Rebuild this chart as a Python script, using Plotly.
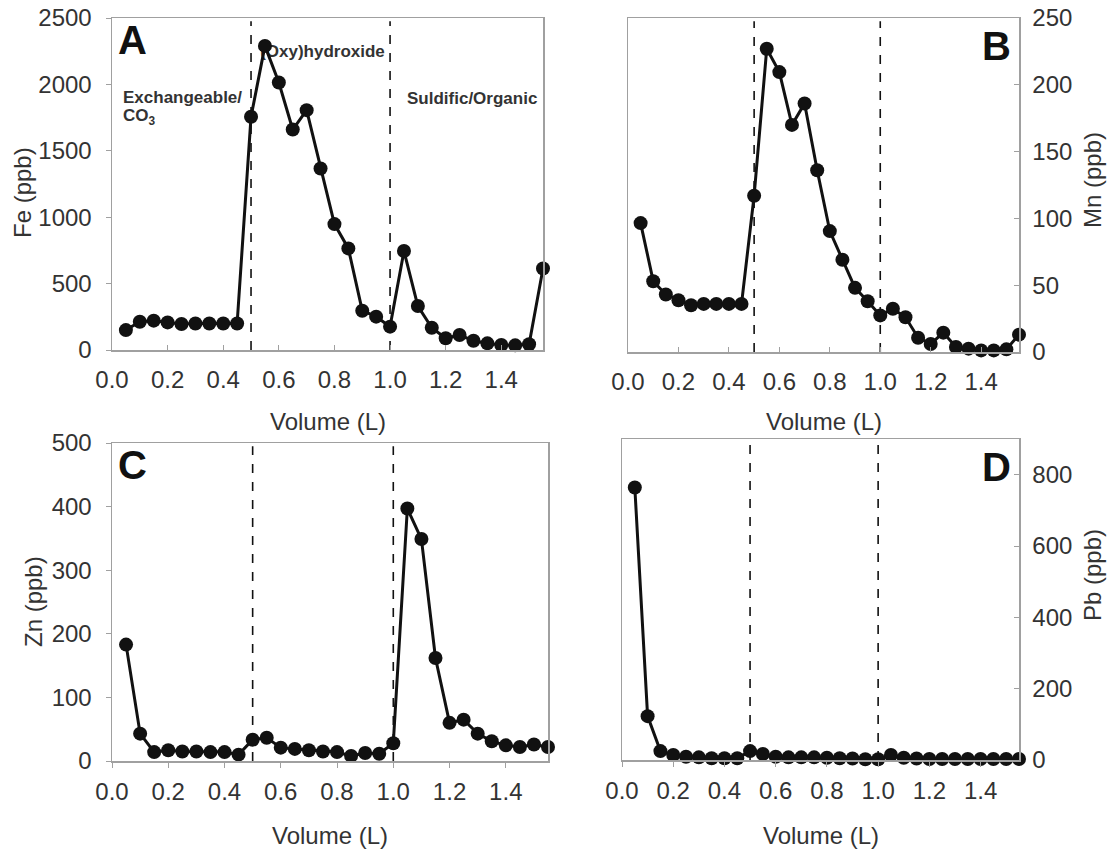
import plotly.graph_objects as go

W, H = 1112, 854
OFF = 0  # body margin removed via post_script

volume = [0.05, 0.10, 0.15, 0.20, 0.25, 0.30, 0.35, 0.40, 0.45, 0.50,
          0.55, 0.60, 0.65, 0.70, 0.75, 0.80, 0.85, 0.90, 0.95, 1.00,
          1.05, 1.10, 1.15, 1.20, 1.25, 1.30, 1.35, 1.40, 1.45, 1.50, 1.55]

fe = [150, 213, 221, 208, 196, 200, 200, 200, 200, 1756,
      2290, 2014, 1660, 1806, 1367, 948, 765, 296, 251, 176,
      745, 331, 168, 88, 113, 70, 50, 38, 35, 43, 614]

mn = [96.5, 53, 43, 38.7, 35, 36, 36, 36, 36, 117,
      227, 209.5, 170, 186, 136, 90.5, 69, 48, 38, 27.4,
      32.4, 26, 10.7, 6, 14.5, 3.7, 2.5, 1.2, 1.2, 2, 13]

zn = [183, 43, 14, 17, 15, 15, 14, 14, 10, 33.5,
      36.6, 21, 19, 17, 15, 14, 8, 12.6, 11.5, 28,
      397, 349, 162, 60, 65, 43, 31, 24.6, 22, 26, 22]

pb = [764, 123, 25, 14, 9, 7.5, 5, 5, 5, 25,
      17, 9, 7.5, 7.5, 7.5, 6.5, 5, 4, 2, 2,
      14, 6.5, 4, 3, 3, 3, 3, 3, 3, 3, 3]

fraction_bounds = [0.5, 1.0]
x_ticks = [0.0, 0.2, 0.4, 0.6, 0.8, 1.0, 1.2, 1.4]

panels = [
    ("A", fe, [0, 2500], [0, 500, 1000, 1500, 2000, 2500], "Fe (ppb)", (112, 543, 18, 350), "left"),
    ("B", mn, [0, 250], [0, 50, 100, 150, 200, 250], "Mn (ppb)", (628, 1019, 18, 352), "right"),
    ("C", zn, [0, 500], [0, 100, 200, 300, 400, 500], "Zn (ppb)", (112, 548, 443, 761), "left"),
    ("D", pb, [0, 900], [0, 200, 400, 600, 800], "Pb (ppb)", (622, 1019, 439, 760), "right"),
]

FONT = "Liberation Sans, Arial, sans-serif"
TICKC = "#333333"
FRAME = "#a0a0a0"


def px(x):
    return (x - OFF) / W


def py(y):
    return 1 - (y - OFF) / H


fig = go.Figure()
layout = dict(
    template="none",
    width=W, height=H,
    margin=dict(l=0, r=0, t=0, b=0, pad=0, autoexpand=False),
    paper_bgcolor="white", plot_bgcolor="white",
    showlegend=False,
    font=dict(family=FONT, color=TICKC, size=24),
)
annotations = []
shapes = []

for i, (name, vals, yr, yt, ytitle, box, side) in enumerate(panels):
    n = i + 1
    xa = "x" if n == 1 else f"x{n}"
    ya = "y" if n == 1 else f"y{n}"
    x0, x1, y0, y1 = box
    dom_x = [px(x0), px(x1)]
    dom_y = [py(y1), py(y0)]
    top = i < 2

    if name == "A":
        # region label drawn beneath the data markers
        fig.add_trace(go.Scatter(
            x=[0.757], y=[2236], mode="text", text=["(Oxy)hydroxide"],
            textfont=dict(family=FONT, size=17, color=TICKC, weight="bold"),
            xaxis=xa, yaxis=ya, hoverinfo="skip"))

    fig.add_trace(go.Scatter(
        x=volume, y=vals, mode="lines+markers",
        line=dict(color="#111111", width=3),
        marker=dict(color="#111111", size=14, line=dict(width=0)),
        cliponaxis=False, xaxis=xa, yaxis=ya))

    layout["xaxis" if n == 1 else f"xaxis{n}"] = dict(
        domain=dom_x, anchor=ya, range=[0, 1.55], automargin=False,
        tickvals=x_ticks, ticktext=[f"{v:.1f}" for v in x_ticks],
        ticks="inside" if top else "outside", ticklen=5, tickcolor=FRAME, tickwidth=1,
        showline=True, linecolor=FRAME, linewidth=1.5, mirror=True,
        showgrid=False, zeroline=False, ticklabeloverflow="allow",
        tickfont=dict(size=24, color=TICKC, family=FONT),
        ticklabelstandoff=8 if top else 4,
    )
    layout["yaxis" if n == 1 else f"yaxis{n}"] = dict(
        domain=dom_y, anchor=xa, range=yr, tickvals=yt, automargin=False,
        side=side,
        ticks="outside" if side == "left" else "inside", ticklen=5, tickcolor=FRAME, tickwidth=1,
        showline=True, linecolor=FRAME, linewidth=1.5, mirror=True,
        showgrid=False, zeroline=False, ticklabeloverflow="allow",
        tickfont=dict(size=24, color=TICKC, family=FONT),
        ticklabelstandoff=9 if side == "left" else 7,
    )

    for b in fraction_bounds:
        shapes.append(dict(type="line", xref=xa, yref=f"{ya} domain",
                           x0=b, x1=b, y0=0, y1=0.99,
                           line=dict(color="#111111", width=1.6, dash="dash"),
                           layer="below"))

    if side == "left":
        annotations.append(dict(text=f"<b>{name}</b>", xref="paper", yref="paper",
                                x=px(x0 + 4), y=py(y0 + 22),
                                xanchor="left", yanchor="middle", showarrow=False,
                                font=dict(size=40, color="#111111", family=FONT)))
    else:
        annotations.append(dict(text=f"<b>{name}</b>", xref="paper", yref="paper",
                                x=px(x1 - 6), y=py(y0 + 28),
                                xanchor="right", yanchor="middle", showarrow=False,
                                font=dict(size=40, color="#111111", family=FONT)))

    xt_y = 421 if top else 835
    annotations.append(dict(text="Volume (L)", xref="paper", yref="paper",
                            x=px((x0 + x1) / 2), y=py(xt_y),
                            xanchor="center", yanchor="middle", showarrow=False,
                            font=dict(size=24, color=TICKC, family=FONT)))
    yt_x = {"A": 22, "B": 1092, "C": 33, "D": 1092}[name]
    yt_y = {"A": 193, "B": 180, "C": 602, "D": 575}[name]
    annotations.append(dict(text=ytitle, xref="paper", yref="paper",
                            x=px(yt_x), y=py(yt_y), textangle=-90,
                            xanchor="center", yanchor="middle", showarrow=False,
                            font=dict(size=24, color=TICKC, family=FONT)))

lab_font = dict(size=17, color=TICKC, family=FONT, weight="bold")
annotations.append(dict(text="Exchangeable/", xref="paper", yref="paper",
                        x=px(121), y=py(97), xanchor="left", yanchor="middle",
                        showarrow=False, font=lab_font))
annotations.append(dict(text="CO<sub>3</sub>", xref="paper", yref="paper",
                        x=px(121), y=py(117), xanchor="left", yanchor="middle",
                        showarrow=False, font=lab_font))
annotations.append(dict(text="Suldific/Organic", xref="paper", yref="paper",
                        x=px(405), y=py(98), xanchor="left", yanchor="middle",
                        showarrow=False, font=lab_font))

layout["annotations"] = annotations
layout["shapes"] = shapes
fig.update_layout(**layout)
fig.write_html("out.html",
               config={"displayModeBar": False, "staticPlot": True},
               post_script="document.body.style.margin='0px';"
                           "document.body.style.overflow='hidden';")
